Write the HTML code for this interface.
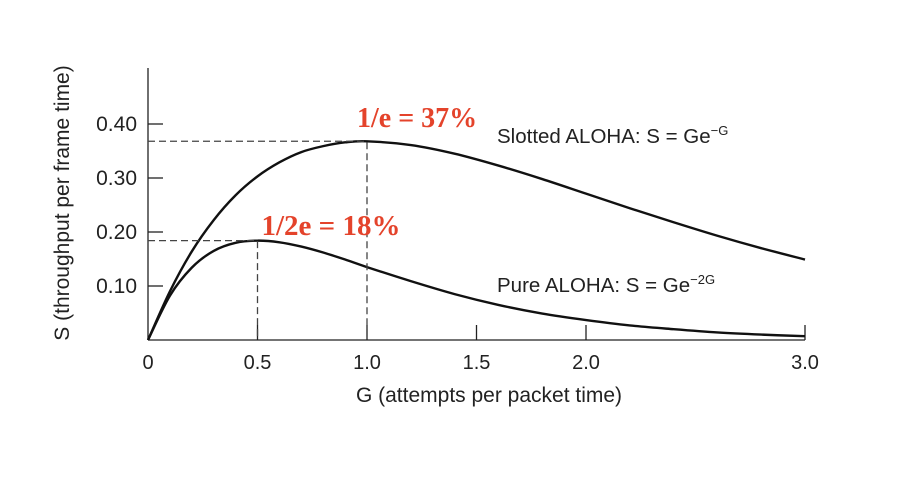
<!DOCTYPE html>
<html><head><meta charset="utf-8"><style>
html,body{margin:0;padding:0;background:#fff}
svg{display:block}
text{font-family:"Liberation Sans",sans-serif;fill:#222}
</style></head><body>
<svg width="910" height="480" viewBox="0 0 910 480">
<g id="axes"></g>
<g id="curves"></g>
<g id="annot"></g>
</svg>
<script>
const gValues=[0,0.1,0.2,0.3,0.4,0.5,0.6,0.7,0.8,0.9,1.0,1.2,1.4,1.6,1.8,2.0,2.2,2.4,2.6,2.8,3.0];
const slottedS=[0,0.090,0.164,0.222,0.268,0.303,0.329,0.348,0.359,0.366,0.368,0.361,0.345,0.323,0.298,0.271,0.244,0.218,0.193,0.170,0.149];
const pureS=[0,0.082,0.134,0.165,0.180,0.184,0.181,0.173,0.162,0.149,0.135,0.109,0.085,0.065,0.049,0.037,0.027,0.020,0.014,0.010,0.007];
const xTicks=[0,0.5,1.0,1.5,2.0,3.0];
const xTickLabels=["0","0.5","1.0","1.5","2.0","3.0"];
const yTicks=[0.10,0.20,0.30,0.40];
const yTickLabels=["0.10","0.20","0.30","0.40"];
const peaks=[{g:1.0,s:0.368,label:"1/e = 37%"},{g:0.5,s:0.184,label:"1/2e = 18%"}];

const NS="http://www.w3.org/2000/svg";
const X=v=>148+v*219;
const Y=v=>340-v*540;
function mk(parent,tag,attrs,txt){const e=document.createElementNS(NS,tag);for(const k in attrs)e.setAttribute(k,attrs[k]);if(txt!==undefined)e.textContent=txt;parent.appendChild(e);return e;}
const ax=document.getElementById('axes'),cv=document.getElementById('curves'),an=document.getElementById('annot');

let e=mk(ax,'line',{x1:148,y1:68,x2:148,y2:340,stroke:'#222','stroke-width':1.3});


e=mk(ax,'line',{x1:148,y1:340,x2:X(3),y2:340,stroke:'#222','stroke-width':1.3});


xTicks.forEach((t,i)=>{
  if(t>0){e=mk(ax,'line',{x1:X(t),y1:325,x2:X(t),y2:340,stroke:'#222','stroke-width':1.3});
  
  }
  e=mk(ax,'text',{x:X(t),y:369,'text-anchor':'middle','font-size':20},xTickLabels[i]);
  
  
});
yTicks.forEach((t,i)=>{
  e=mk(ax,'line',{x1:148,y1:Y(t),x2:163,y2:Y(t),stroke:'#222','stroke-width':1.3});
  
  
  e=mk(ax,'text',{x:137,y:Y(t)+7,'text-anchor':'end','font-size':21},yTickLabels[i]);
  
  
});
e=mk(ax,'text',{x:489,y:402,'text-anchor':'middle','font-size':21},'G (attempts per packet time)');


e=mk(ax,'text',{x:0,y:0,'text-anchor':'middle','font-size':21,transform:'translate(69,203) rotate(-90)'},'S (throughput per frame time)');



function pathFor(vals){
  const p=gValues.map((g,i)=>[X(g),Y(vals[i])]);
  let d='M'+p[0][0]+','+p[0][1];
  for(let i=0;i<p.length-1;i++){
    const p0=p[i-1]||p[i],p1=p[i],p2=p[i+1],p3=p[i+2]||p2;
    const c1=[p1[0]+(p2[0]-p0[0])/6,p1[1]+(p2[1]-p0[1])/6];
    const c2=[p2[0]-(p3[0]-p1[0])/6,p2[1]-(p3[1]-p1[1])/6];
    d+=` C${c1[0]},${c1[1]} ${c2[0]},${c2[1]} ${p2[0]},${p2[1]}`;
  }
  return d;
}
e=mk(cv,'path',{d:pathFor(slottedS),fill:'none',stroke:'#111','stroke-width':2.4});


e=mk(cv,'path',{d:pathFor(pureS),fill:'none',stroke:'#111','stroke-width':2.4});



peaks.forEach((pk,i)=>{
  e=mk(an,'polyline',{points:`148,${Y(pk.s)} ${X(pk.g)},${Y(pk.s)} ${X(pk.g)},340`,fill:'none',stroke:'#444','stroke-width':1.3,'stroke-dasharray':'7,4'});
  
  
  e=mk(an,'text',{x:X(pk.g)+(i==0?-10:4),y:i==0?127:235,'font-size':i==0?28:29,'font-weight':'bold',style:'font-family:"Liberation Serif",serif;fill:#e4432b'},pk.label);
  
  
});
e=mk(an,'text',{x:497,y:143,'font-size':20.5},'Slotted ALOHA: S = Ge');


mk(e,'tspan',{dy:-8,'font-size':13},'−G');
e=mk(an,'text',{x:497,y:292,'font-size':20.5},'Pure ALOHA: S = Ge');


mk(e,'tspan',{dy:-8,'font-size':13},'−2G');
</script>
</body></html>
